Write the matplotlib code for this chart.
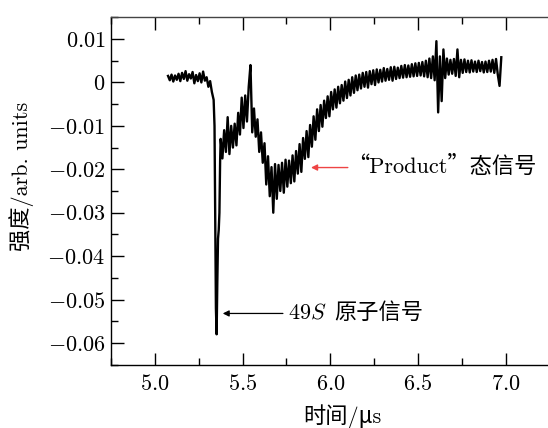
import numpy as np
import matplotlib
matplotlib.use("Agg")
import matplotlib.pyplot as plt
import matplotlib.ticker as mticker

plt.rcParams["font.family"] = ["cmr10", "Noto Sans CJK SC", "DejaVu Sans"]
plt.rcParams["mathtext.fontset"] = "cm"
plt.rcParams["axes.formatter.use_mathtext"] = True

# ── signal (time in µs, intensity in arb. units) ─────────────────────────
t_pre = np.arange(5.075, 5.336, 0.01)
v_pre = [0.0015, 0.0005, 0.0018, 0.0002, 0.0016, 0.0006, 0.0020, 0.0003,
         0.0022, 0.0008, 0.0026, 0.0004, 0.0019, 0.0009, 0.0024, -0.0002,
         0.0017, 0.0003, 0.0021, 0.0000, 0.0025, 0.0004, 0.0012, -0.0010,
         0.0003, -0.0022, -0.0040]

t_dip = [5.340, 5.344, 5.348, 5.352, 5.356, 5.360, 5.364, 5.368, 5.372]
v_dip = [-0.010, -0.030, -0.052, -0.058, -0.046, -0.036, -0.034, -0.030, -0.018]

t_post = np.arange(5.375, 6.976, 0.01)
v_post = [-0.0130, -0.0175, -0.0110, -0.0160, -0.0080, -0.0165, -0.0100, -0.0150,
          -0.0095, -0.0145, -0.0070, -0.0120, -0.0035, -0.0105, -0.0030, -0.0090,
          -0.0010, 0.0040, -0.0115, -0.0060, -0.0125, -0.0085, -0.0160, -0.0115,
          -0.0185, -0.0140, -0.0235, -0.0170, -0.0262, -0.0195, -0.0300, -0.0188,
          -0.0268, -0.0190, -0.0250, -0.0185, -0.0254, -0.0178, -0.0240, -0.0180,
          -0.0232, -0.0168, -0.0228, -0.0158, -0.0210, -0.0142, -0.0206, -0.0128,
          -0.0176, -0.0112, -0.0172, -0.0098, -0.0148, -0.0078, -0.0132, -0.0062,
          -0.0112, -0.0052, -0.0102, -0.0042, -0.0082, -0.0032, -0.0078, -0.0022,
          -0.0062, -0.0016, -0.0058, -0.0010, -0.0048, -0.0006, -0.0042, 0.0002,
          -0.0036, 0.0006, -0.0030, 0.0012, -0.0024, 0.0016, -0.0018, 0.0018,
          -0.0014, 0.0022, -0.0010, 0.0024, -0.0012, 0.0026, -0.0004, 0.0028,
          -0.0006, 0.0030, 0.0000, 0.0029, 0.0002, 0.0033, 0.0004, 0.0031,
          0.0006, 0.0035, 0.0004, 0.0036, 0.0008, 0.0034, 0.0010, 0.0038,
          0.0011, 0.0040, 0.0012, 0.0039, 0.0013, 0.0042, 0.0014, 0.0044,
          0.0015, 0.0045, 0.0016, 0.0047, 0.0014, 0.0050, 0.0012, 0.0055,
          0.0010, 0.0060, 0.0005, 0.0095, -0.0069, 0.0060, -0.0043, 0.0076,
          0.0010, 0.0055, 0.0018, 0.0052, 0.0020, 0.0054, 0.0015, 0.0076,
          0.0012, 0.0052, 0.0022, 0.0053, 0.0024, 0.0050, 0.0023, 0.0051,
          0.0025, 0.0048, 0.0024, 0.0050, 0.0026, 0.0047, 0.0023, 0.0048,
          0.0024, 0.0050, 0.0025, 0.0052, 0.0022, 0.0054, 0.0018, -0.0008,
          0.0058]

time = np.concatenate([t_pre, t_dip, t_post])
signal = np.concatenate([v_pre, v_dip, v_post])

x_ticks = [5.0, 5.5, 6.0, 6.5, 7.0]
y_ticks = [0.01, 0.0, -0.01, -0.02, -0.03, -0.04, -0.05, -0.06]

FS = 16

fig = plt.figure(figsize=(5.48, 4.28), dpi=100, facecolor="white")
ax = fig.add_axes([0.2026, 0.1479, 0.8002, 0.8117])

ax.plot(time, signal, color="black", linewidth=1.7, zorder=3)

ax.set_xlim(4.75, 7.25)
ax.set_ylim(-0.065, 0.015)
ax.set_xticks(x_ticks)
ax.set_yticks(y_ticks)
ax.xaxis.set_minor_locator(mticker.MultipleLocator(0.25))
ax.yaxis.set_minor_locator(mticker.MultipleLocator(0.005))

ax.xaxis.set_major_formatter(mticker.FuncFormatter(lambda v, _: f"${v:.1f}$"))
ax.yaxis.set_major_formatter(mticker.FuncFormatter(
    lambda v, _: "$0$" if abs(v) < 1e-9 else f"${v:.2f}$"))

ax.tick_params(which="both", direction="in", top=True, right=False,
               labelsize=FS, width=1.0)
ax.tick_params(which="major", length=9)
ax.tick_params(which="minor", length=5)
ax.tick_params(axis="x", pad=7)
ax.tick_params(axis="y", pad=4)

ax.spines["right"].set_visible(False)
ax.spines["top"].set_edgecolor("#444444")
for s in ("left", "bottom", "top"):
    ax.spines[s].set_linewidth(1.0)

ax.set_xlabel("时间/μs", fontsize=FS)
ax.xaxis.label.set_va("center")
ax.xaxis.set_label_coords(0.527, -0.150)
ax.set_ylabel("强度/arb. units", fontsize=FS)
ax.yaxis.label.set_va("center")
ax.yaxis.set_label_coords(-0.205, 0.543)

# ── annotations ─────────────────────────────────────────────────────────
ax.annotate("", xy=(5.89, -0.0196), xytext=(6.10, -0.0196),
            arrowprops=dict(arrowstyle="-|>", color="#ee4444", lw=1.0,
                            mutation_scale=9, shrinkA=0, shrinkB=0))
ax.text(6.095, -0.0192, "“Product”态信号", fontsize=FS, va="center", ha="left")

ax.annotate("", xy=(5.387, -0.0532), xytext=(5.73, -0.0532),
            arrowprops=dict(arrowstyle="-|>", color="black", lw=0.9,
                            mutation_scale=9, shrinkA=0, shrinkB=0))
lbl = ax.text(5.757, -0.0530, "49$S$", fontsize=FS, va="center", ha="left")
ax.annotate("原子信号", xy=(1, 0.5), xycoords=lbl, xytext=(6, 0),
            textcoords="offset points", fontsize=FS, va="center", ha="left")

fig.savefig("out.png", dpi=100, facecolor="white")
plt.close(fig)
